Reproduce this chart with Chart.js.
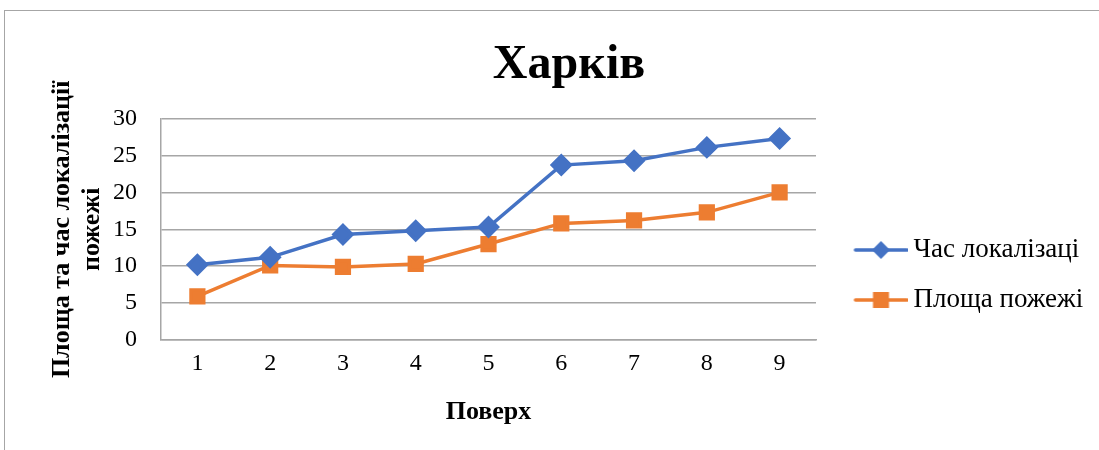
<!DOCTYPE html>
<html>
<head>
<meta charset="utf-8">
<script src="https://cdn.jsdelivr.net/npm/chart.js@4"></script>
<style>
  html, body { margin: 0; padding: 0; background: #fff; }
  canvas { display: block; }
</style>
</head>
<body>
<canvas id="myChart" width="1099" height="450"></canvas>
<script>
const floors = ['1', '2', '3', '4', '5', '6', '7', '8', '9'];
const locTime = [10.2, 11.2, 14.3, 14.8, 15.3, 23.7, 24.3, 26.1, 27.3];
const fireArea = [5.9, 10.1, 9.9, 10.3, 13.0, 15.8, 16.2, 17.3, 20.0];

const BLUE = '#4472c4';
const ORANGE = '#ed7d31';
const FONT = "'Liberation Serif', 'Times New Roman', serif";

// legend sample: short line with the marker, drawn in the right part of a wider canvas
function legendIcon(color, shape) {
  const c = document.createElement('canvas');
  c.width = 76; c.height = 22;
  const g = c.getContext('2d');
  g.strokeStyle = color; g.lineWidth = 3.5; g.lineCap = 'round';
  g.beginPath(); g.moveTo(24, 11); g.lineTo(75, 11); g.stroke();
  g.fillStyle = color;
  const cx = 49.5;
  if (shape === 'diamond') {
    g.beginPath(); g.moveTo(cx, 2); g.lineTo(cx + 9, 11); g.lineTo(cx, 20); g.lineTo(cx - 9, 11); g.closePath(); g.fill();
  } else {
    g.fillRect(cx - 8, 3, 16, 16);
  }
  return c;
}
const icons = [legendIcon(BLUE, 'diamond'), legendIcon(ORANGE, 'square')];

const frame = {
  id: 'frame',
  beforeDraw(chart) {
    const g = chart.ctx;
    g.save();
    g.strokeStyle = '#a6a6a6'; g.lineWidth = 1;
    g.strokeRect(4.5, 10.5, 1200, 600);
    g.restore();
  }
};

// fixed legend width so the plot ends where the reference's does
const legendWidth = {
  id: 'legendWidth',
  beforeLayout(chart) {
    const lg = chart.legend;
    if (lg && !lg._wrapped) {
      const orig = lg.fit.bind(lg);
      lg.fit = function () { orig(); this.width = 279; };
      lg._wrapped = true;
    }
  }
};

const ctx = document.getElementById('myChart');

chart = new Chart(ctx, {
type: 'line',
data: {
  labels: floors,
  datasets: [{
    label: 'Час локалізаці',
    data: locTime,
    borderColor: BLUE,
    backgroundColor: BLUE,
    borderWidth: 3.5,
    pointStyle: 'rectRot',
    pointRadius: 9,
    pointHoverRadius: 9,
    tension: 0
  }, {
    label: 'Площа пожежі',
    data: fireArea,
    borderColor: ORANGE,
    backgroundColor: ORANGE,
    borderWidth: 3.5,
    pointStyle: 'rect',
    pointRadius: 9,
    pointHoverRadius: 9,
    tension: 0
  }]
},
options: {
  responsive: false,
  animation: false,
  devicePixelRatio: 1,
  layout: { padding: { top: 16, left: 43, right: 4, bottom: 14 } },
  plugins: {
    title: {
      display: true,
      text: 'Харків',
      color: '#000',
      font: { family: FONT, size: 48, weight: 'bold' },
      padding: { top: 21, bottom: 24 }
    },
    legend: {
      position: 'right',
      title: { display: true, text: ' ', font: { size: 10 }, padding: 43 },
      labels: {
        usePointStyle: true,
        pointStyleWidth: 61,
        padding: 23,
        color: '#000',
        font: { family: FONT, size: 27 },
        generateLabels(chart) {
          return chart.data.datasets.map((ds, i) => ({
            text: ds.label,
            fontColor: '#000',
            pointStyle: icons[i],
            fillStyle: ds.borderColor,
            strokeStyle: ds.borderColor,
            lineWidth: 0,
            datasetIndex: i,
            hidden: false
          }));
        }
      }
    },
    tooltip: { enabled: false }
  },
  scales: {
    x: {
      offset: true,
      grid: { display: false, drawTicks: false },
      border: { display: true, color: '#a6a6a6', width: 1.5 },
      ticks: { color: '#000', font: { family: FONT, size: 24 }, padding: 9 },
      title: {
        display: true, text: 'Поверх', color: '#000',
        font: { family: FONT, size: 26, weight: 'bold' }, padding: { top: 10, bottom: 8 }
      }
    },
    y: {
      min: 0, max: 30,
      afterFit(scale) { scale.width = 118; },
      ticks: { stepSize: 5, color: '#000', font: { family: FONT, size: 24 }, padding: 24 },
      grid: { color: '#a6a6a6', lineWidth: 1.5, drawTicks: false },
      border: { display: true, color: '#a6a6a6', width: 1.5 },
      title: {
        display: true, text: ['Площа та час локалізації', 'пожежі'], color: '#000',
        font: { family: FONT, size: 26, weight: 'bold', lineHeight: 1.15 }, padding: { bottom: 3 }
      }
    }
  }
},
plugins: [frame, legendWidth]
});
</script>
</body>
</html>
